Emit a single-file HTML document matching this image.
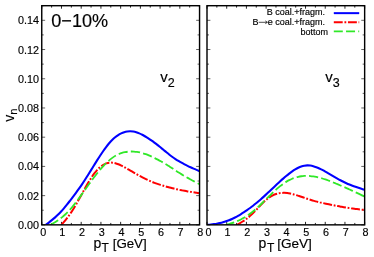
<!DOCTYPE html><html><head><meta charset="utf-8"><style>html,body{margin:0;padding:0;background:#fff}svg{display:block;will-change:transform;opacity:0.999}text{font-family:"Liberation Sans",sans-serif;fill:#000;stroke:#000;stroke-width:0.15px}</style></head><body>
<svg width="374" height="257" viewBox="0 0 374 257">
<rect width="374" height="257" fill="#fff"/>
<defs><clipPath id="c1"><rect x="41.75" y="5.70" width="157.80" height="219.15"/></clipPath><clipPath id="c2"><rect x="207.00" y="5.70" width="157.65" height="219.15"/></clipPath></defs>
<path d="M41.75,224.85v-3.00M41.75,5.70v3.00M51.61,224.85v-1.90M51.61,5.70v1.90M61.48,224.85v-3.00M61.48,5.70v3.00M71.34,224.85v-1.90M71.34,5.70v1.90M81.20,224.85v-3.00M81.20,5.70v3.00M91.06,224.85v-1.90M91.06,5.70v1.90M100.93,224.85v-3.00M100.93,5.70v3.00M110.79,224.85v-1.90M110.79,5.70v1.90M120.65,224.85v-3.00M120.65,5.70v3.00M130.51,224.85v-1.90M130.51,5.70v1.90M140.38,224.85v-3.00M140.38,5.70v3.00M150.24,224.85v-1.90M150.24,5.70v1.90M160.10,224.85v-3.00M160.10,5.70v3.00M169.96,224.85v-1.90M169.96,5.70v1.90M179.83,224.85v-3.00M179.83,5.70v3.00M189.69,224.85v-1.90M189.69,5.70v1.90M199.55,224.85v-3.00M199.55,5.70v3.00M207.00,224.85v-3.00M207.00,5.70v3.00M216.85,224.85v-1.90M216.85,5.70v1.90M226.71,224.85v-3.00M226.71,5.70v3.00M236.56,224.85v-1.90M236.56,5.70v1.90M246.41,224.85v-3.00M246.41,5.70v3.00M256.27,224.85v-1.90M256.27,5.70v1.90M266.12,224.85v-3.00M266.12,5.70v3.00M275.97,224.85v-1.90M275.97,5.70v1.90M285.82,224.85v-3.00M285.82,5.70v3.00M295.68,224.85v-1.90M295.68,5.70v1.90M305.53,224.85v-3.00M305.53,5.70v3.00M315.38,224.85v-1.90M315.38,5.70v1.90M325.24,224.85v-3.00M325.24,5.70v3.00M335.09,224.85v-1.90M335.09,5.70v1.90M344.94,224.85v-3.00M344.94,5.70v3.00M354.80,224.85v-1.90M354.80,5.70v1.90M364.65,224.85v-3.00M364.65,5.70v3.00" stroke="#000" stroke-width="0.85" fill="none"/>
<path d="M41.75,224.85h3.40M199.55,224.85h-3.40M41.75,210.24h2.00M199.55,210.24h-2.00M41.75,195.63h3.40M199.55,195.63h-3.40M41.75,181.02h2.00M199.55,181.02h-2.00M41.75,166.41h3.40M199.55,166.41h-3.40M41.75,151.80h2.00M199.55,151.80h-2.00M41.75,137.19h3.40M199.55,137.19h-3.40M41.75,122.58h2.00M199.55,122.58h-2.00M41.75,107.97h3.40M199.55,107.97h-3.40M41.75,93.36h2.00M199.55,93.36h-2.00M41.75,78.75h3.40M199.55,78.75h-3.40M41.75,64.14h2.00M199.55,64.14h-2.00M41.75,49.53h3.40M199.55,49.53h-3.40M41.75,34.92h2.00M199.55,34.92h-2.00M41.75,20.31h3.40M199.55,20.31h-3.40M41.75,5.70h2.00M199.55,5.70h-2.00M207.00,224.85h3.40M364.65,224.85h-3.40M207.00,210.24h2.00M364.65,210.24h-2.00M207.00,195.63h3.40M364.65,195.63h-3.40M207.00,181.02h2.00M364.65,181.02h-2.00M207.00,166.41h3.40M364.65,166.41h-3.40M207.00,151.80h2.00M364.65,151.80h-2.00M207.00,137.19h3.40M364.65,137.19h-3.40M207.00,122.58h2.00M364.65,122.58h-2.00M207.00,107.97h3.40M364.65,107.97h-3.40M207.00,93.36h2.00M364.65,93.36h-2.00M207.00,78.75h3.40M364.65,78.75h-3.40M207.00,64.14h2.00M364.65,64.14h-2.00M207.00,49.53h3.40M364.65,49.53h-3.40M207.00,34.92h2.00M364.65,34.92h-2.00M207.00,20.31h3.40M364.65,20.31h-3.40M207.00,5.70h2.00M364.65,5.70h-2.00" stroke="#000" stroke-width="0.62" fill="none"/>
<g clip-path="url(#c1)" fill="none" stroke-width="1.80">
<path d="M45.80,224.90 C46.30,224.52 47.81,223.37 48.82,222.58 C49.82,221.80 50.83,221.01 51.83,220.18 C52.84,219.36 53.84,218.51 54.85,217.62 C55.85,216.72 56.86,215.80 57.86,214.81 C58.87,213.83 59.87,212.79 60.88,211.71 C61.88,210.63 62.89,209.49 63.89,208.31 C64.90,207.14 65.90,205.91 66.91,204.66 C67.92,203.42 68.92,202.13 69.93,200.83 C70.93,199.54 71.94,198.22 72.94,196.89 C73.95,195.57 74.95,194.24 75.96,192.87 C76.96,191.51 77.97,190.13 78.97,188.70 C79.98,187.28 80.98,185.82 81.99,184.32 C82.99,182.82 84.00,181.28 85.00,179.72 C86.01,178.16 87.01,176.56 88.02,174.96 C89.02,173.36 90.03,171.74 91.04,170.12 C92.04,168.50 93.05,166.87 94.05,165.25 C95.06,163.64 96.06,162.02 97.07,160.43 C98.07,158.84 99.08,157.25 100.08,155.72 C101.09,154.19 102.09,152.67 103.10,151.23 C104.10,149.78 105.11,148.38 106.11,147.06 C107.12,145.74 108.12,144.48 109.13,143.31 C110.13,142.15 111.14,141.05 112.15,140.05 C113.15,139.05 114.16,138.13 115.16,137.30 C116.17,136.47 117.17,135.73 118.18,135.08 C119.18,134.42 120.19,133.86 121.19,133.37 C122.20,132.89 123.20,132.49 124.21,132.18 C125.21,131.86 126.22,131.63 127.22,131.48 C128.23,131.33 129.23,131.27 130.24,131.28 C131.24,131.29 132.25,131.39 133.25,131.55 C134.26,131.72 135.27,131.97 136.27,132.27 C137.28,132.58 138.28,132.96 139.29,133.38 C140.29,133.80 141.30,134.29 142.30,134.80 C143.31,135.31 144.31,135.88 145.32,136.47 C146.32,137.05 147.33,137.68 148.33,138.33 C149.34,138.98 150.34,139.66 151.35,140.36 C152.35,141.06 153.36,141.79 154.36,142.54 C155.37,143.29 156.38,144.07 157.38,144.86 C158.39,145.66 159.39,146.48 160.40,147.30 C161.40,148.12 162.41,148.96 163.41,149.80 C164.42,150.63 165.42,151.48 166.43,152.30 C167.43,153.12 168.44,153.94 169.44,154.72 C170.45,155.50 171.45,156.26 172.46,156.99 C173.46,157.71 174.47,158.40 175.47,159.06 C176.48,159.73 177.48,160.35 178.49,160.96 C179.50,161.57 180.50,162.15 181.51,162.70 C182.51,163.26 183.52,163.80 184.52,164.32 C185.53,164.83 186.53,165.33 187.54,165.82 C188.54,166.31 189.55,166.78 190.55,167.24 C191.56,167.70 192.56,168.15 193.57,168.59 C194.57,169.04 195.58,169.48 196.58,169.91 C197.59,170.35 199.10,170.99 199.60,171.21" stroke="#0000ff" stroke-width="2.1"/>
<path d="M61.20,225.09 C61.70,224.50 63.21,222.80 64.21,221.60 C65.21,220.40 66.21,219.19 67.22,217.89 C68.22,216.58 69.22,215.22 70.23,213.77 C71.23,212.31 72.23,210.77 73.23,209.17 C74.24,207.56 75.24,205.86 76.24,204.13 C77.25,202.40 78.25,200.59 79.25,198.78 C80.26,196.97 81.26,195.10 82.26,193.28 C83.26,191.45 84.27,189.60 85.27,187.82 C86.27,186.04 87.28,184.27 88.28,182.60 C89.28,180.92 90.28,179.29 91.29,177.77 C92.29,176.25 93.29,174.80 94.30,173.48 C95.30,172.16 96.30,170.93 97.30,169.84 C98.31,168.75 99.31,167.78 100.31,166.94 C101.32,166.10 102.32,165.38 103.32,164.79 C104.32,164.20 105.33,163.74 106.33,163.39 C107.33,163.05 108.34,162.82 109.34,162.70 C110.34,162.58 111.34,162.59 112.35,162.67 C113.35,162.76 114.35,162.96 115.36,163.22 C116.36,163.47 117.36,163.83 118.37,164.22 C119.37,164.60 120.37,165.07 121.37,165.55 C122.38,166.04 123.38,166.57 124.38,167.12 C125.39,167.66 126.39,168.23 127.39,168.81 C128.39,169.38 129.40,169.98 130.40,170.56 C131.40,171.15 132.41,171.74 133.41,172.33 C134.41,172.91 135.41,173.49 136.42,174.06 C137.42,174.63 138.42,175.19 139.43,175.74 C140.43,176.29 141.43,176.83 142.43,177.35 C143.44,177.88 144.44,178.39 145.44,178.88 C146.45,179.37 147.45,179.85 148.45,180.31 C149.46,180.76 150.46,181.20 151.46,181.62 C152.46,182.04 153.47,182.44 154.47,182.82 C155.47,183.20 156.48,183.56 157.48,183.90 C158.48,184.25 159.48,184.58 160.49,184.90 C161.49,185.22 162.49,185.52 163.50,185.82 C164.50,186.12 165.50,186.40 166.50,186.68 C167.51,186.96 168.51,187.22 169.51,187.48 C170.52,187.75 171.52,188.00 172.52,188.25 C173.52,188.49 174.53,188.73 175.53,188.96 C176.53,189.20 177.54,189.42 178.54,189.64 C179.54,189.86 180.54,190.07 181.55,190.27 C182.55,190.47 183.55,190.66 184.56,190.85 C185.56,191.04 186.56,191.22 187.57,191.39 C188.57,191.56 189.57,191.72 190.57,191.88 C191.58,192.04 192.58,192.20 193.58,192.35 C194.59,192.50 195.59,192.64 196.59,192.79 C197.59,192.93 199.10,193.14 199.60,193.21" stroke="#ff0000" stroke-width="2" stroke-dasharray="8.9,1.75,1.8,1.7" stroke-dashoffset="-0.80"/>
<path d="M50.30,224.96 C50.80,224.68 52.29,223.83 53.29,223.23 C54.28,222.64 55.28,222.04 56.27,221.39 C57.27,220.75 58.26,220.09 59.26,219.37 C60.25,218.65 61.25,217.90 62.24,217.09 C63.24,216.27 64.23,215.41 65.23,214.48 C66.23,213.55 67.22,212.57 68.22,211.53 C69.21,210.49 70.21,209.39 71.20,208.25 C72.20,207.10 73.19,205.89 74.19,204.64 C75.18,203.39 76.18,202.08 77.17,200.75 C78.17,199.41 79.16,198.03 80.16,196.65 C81.16,195.27 82.15,193.86 83.15,192.47 C84.14,191.07 85.14,189.66 86.13,188.26 C87.13,186.86 88.12,185.46 89.12,184.09 C90.11,182.71 91.11,181.34 92.10,179.99 C93.10,178.65 94.09,177.31 95.09,176.02 C96.09,174.72 97.08,173.44 98.08,172.21 C99.07,170.98 100.07,169.78 101.06,168.63 C102.06,167.48 103.05,166.38 104.05,165.33 C105.04,164.28 106.04,163.27 107.03,162.33 C108.03,161.39 109.02,160.50 110.02,159.67 C111.02,158.85 112.01,158.08 113.01,157.38 C114.00,156.68 115.00,156.05 115.99,155.49 C116.99,154.93 117.98,154.44 118.98,154.01 C119.97,153.58 120.97,153.22 121.96,152.91 C122.96,152.60 123.95,152.36 124.95,152.16 C125.95,151.95 126.94,151.81 127.94,151.70 C128.93,151.60 129.93,151.54 130.92,151.52 C131.92,151.50 132.91,151.53 133.91,151.59 C134.90,151.66 135.90,151.76 136.89,151.90 C137.89,152.05 138.88,152.23 139.88,152.45 C140.88,152.67 141.87,152.93 142.87,153.22 C143.86,153.51 144.86,153.85 145.85,154.21 C146.85,154.57 147.84,154.97 148.84,155.39 C149.83,155.80 150.83,156.25 151.82,156.71 C152.82,157.17 153.81,157.65 154.81,158.14 C155.81,158.63 156.80,159.14 157.80,159.66 C158.79,160.18 159.79,160.71 160.78,161.26 C161.78,161.81 162.77,162.37 163.77,162.95 C164.76,163.53 165.76,164.13 166.75,164.75 C167.75,165.36 168.74,166.00 169.74,166.64 C170.74,167.29 171.73,167.95 172.73,168.61 C173.72,169.26 174.72,169.93 175.71,170.58 C176.71,171.23 177.70,171.88 178.70,172.51 C179.69,173.14 180.69,173.76 181.68,174.37 C182.68,174.98 183.67,175.58 184.67,176.17 C185.67,176.75 186.66,177.32 187.66,177.88 C188.65,178.44 189.65,178.98 190.64,179.52 C191.64,180.06 192.63,180.58 193.63,181.11 C194.62,181.63 195.62,182.15 196.61,182.67 C197.61,183.18 199.10,183.96 199.60,184.21" stroke="#30e828" stroke-width="1.8" stroke-dasharray="9.25,3.2" stroke-dashoffset="0.00"/>
</g>
<g clip-path="url(#c2)" fill="none" stroke-width="1.80">
<path d="M207.90,224.86 C208.40,224.81 209.91,224.65 210.91,224.53 C211.92,224.41 212.92,224.28 213.92,224.14 C214.93,223.99 215.93,223.84 216.93,223.66 C217.94,223.48 218.94,223.28 219.95,223.05 C220.95,222.82 221.95,222.57 222.96,222.28 C223.96,222.00 224.97,221.69 225.97,221.34 C226.97,221.00 227.98,220.63 228.98,220.23 C229.98,219.82 230.99,219.39 231.99,218.93 C233.00,218.46 234.00,217.97 235.00,217.45 C236.01,216.94 237.01,216.39 238.02,215.82 C239.02,215.25 240.02,214.66 241.03,214.04 C242.03,213.43 243.03,212.79 244.04,212.14 C245.04,211.49 246.05,210.81 247.05,210.12 C248.05,209.43 249.06,208.71 250.06,207.98 C251.07,207.24 252.07,206.49 253.07,205.71 C254.08,204.93 255.08,204.12 256.08,203.30 C257.09,202.48 258.09,201.63 259.10,200.77 C260.10,199.91 261.10,199.02 262.11,198.13 C263.11,197.23 264.12,196.31 265.12,195.39 C266.12,194.47 267.13,193.53 268.13,192.59 C269.13,191.65 270.14,190.70 271.14,189.76 C272.15,188.81 273.15,187.85 274.15,186.91 C275.16,185.96 276.16,185.02 277.17,184.08 C278.17,183.15 279.17,182.22 280.18,181.31 C281.18,180.40 282.18,179.49 283.19,178.62 C284.19,177.74 285.20,176.88 286.20,176.05 C287.20,175.22 288.21,174.41 289.21,173.64 C290.22,172.87 291.22,172.12 292.22,171.42 C293.23,170.73 294.23,170.06 295.23,169.45 C296.24,168.85 297.24,168.29 298.25,167.80 C299.25,167.32 300.25,166.88 301.26,166.54 C302.26,166.19 303.27,165.91 304.27,165.72 C305.27,165.53 306.28,165.43 307.28,165.40 C308.28,165.38 309.29,165.44 310.29,165.57 C311.30,165.70 312.30,165.91 313.30,166.18 C314.31,166.44 315.31,166.78 316.32,167.15 C317.32,167.52 318.32,167.96 319.33,168.42 C320.33,168.88 321.33,169.39 322.34,169.91 C323.34,170.44 324.35,171.00 325.35,171.57 C326.35,172.14 327.36,172.73 328.36,173.32 C329.37,173.92 330.37,174.52 331.37,175.12 C332.38,175.72 333.38,176.32 334.38,176.91 C335.39,177.50 336.39,178.08 337.40,178.64 C338.40,179.20 339.40,179.75 340.41,180.28 C341.41,180.81 342.42,181.32 343.42,181.81 C344.42,182.30 345.43,182.77 346.43,183.22 C347.43,183.67 348.44,184.10 349.44,184.51 C350.45,184.92 351.45,185.31 352.45,185.70 C353.46,186.08 354.46,186.44 355.47,186.80 C356.47,187.15 357.47,187.50 358.48,187.84 C359.48,188.18 360.48,188.51 361.49,188.84 C362.49,189.17 364.00,189.66 364.50,189.82" stroke="#0000ff" stroke-width="2.1"/>
<path d="M236.70,224.95 C237.20,224.68 238.68,223.87 239.67,223.30 C240.66,222.73 241.65,222.16 242.64,221.53 C243.63,220.90 244.63,220.25 245.62,219.53 C246.61,218.81 247.60,218.05 248.59,217.22 C249.58,216.40 250.57,215.52 251.56,214.59 C252.55,213.66 253.54,212.66 254.53,211.65 C255.52,210.64 256.51,209.57 257.50,208.52 C258.50,207.47 259.49,206.39 260.48,205.36 C261.47,204.33 262.46,203.30 263.45,202.35 C264.44,201.40 265.43,200.49 266.42,199.66 C267.41,198.83 268.40,198.05 269.39,197.37 C270.38,196.69 271.37,196.09 272.37,195.57 C273.36,195.05 274.35,194.61 275.34,194.25 C276.33,193.88 277.32,193.60 278.31,193.39 C279.30,193.17 280.29,193.03 281.28,192.94 C282.27,192.86 283.26,192.84 284.25,192.87 C285.24,192.90 286.23,192.99 287.23,193.11 C288.22,193.23 289.21,193.41 290.20,193.60 C291.19,193.80 292.18,194.03 293.17,194.29 C294.16,194.54 295.15,194.82 296.14,195.12 C297.13,195.41 298.12,195.74 299.11,196.06 C300.10,196.38 301.10,196.72 302.09,197.06 C303.08,197.39 304.07,197.73 305.06,198.06 C306.05,198.39 307.04,198.72 308.03,199.04 C309.02,199.36 310.01,199.67 311.00,199.97 C311.99,200.27 312.98,200.56 313.97,200.84 C314.97,201.12 315.96,201.39 316.95,201.64 C317.94,201.90 318.93,202.14 319.92,202.38 C320.91,202.61 321.90,202.83 322.89,203.05 C323.88,203.27 324.87,203.48 325.86,203.69 C326.85,203.90 327.84,204.10 328.83,204.31 C329.83,204.51 330.82,204.71 331.81,204.91 C332.80,205.12 333.79,205.32 334.78,205.52 C335.77,205.71 336.76,205.91 337.75,206.10 C338.74,206.30 339.73,206.49 340.72,206.67 C341.71,206.85 342.70,207.04 343.70,207.21 C344.69,207.38 345.68,207.55 346.67,207.71 C347.66,207.87 348.65,208.02 349.64,208.17 C350.63,208.31 351.62,208.45 352.61,208.58 C353.60,208.71 354.59,208.84 355.58,208.95 C356.57,209.07 357.57,209.18 358.56,209.29 C359.55,209.40 360.54,209.51 361.53,209.61 C362.52,209.71 364.00,209.86 364.50,209.91" stroke="#ff0000" stroke-width="2" stroke-dasharray="8.9,1.75,1.8,1.7" stroke-dashoffset="-0.20"/>
<path d="M225.80,224.89 C226.30,224.75 227.81,224.34 228.82,224.05 C229.82,223.76 230.83,223.47 231.83,223.14 C232.84,222.81 233.85,222.47 234.85,222.09 C235.86,221.71 236.86,221.31 237.87,220.87 C238.88,220.43 239.88,219.95 240.89,219.44 C241.89,218.93 242.90,218.38 243.90,217.79 C244.91,217.20 245.92,216.57 246.92,215.91 C247.93,215.24 248.93,214.53 249.94,213.78 C250.94,213.04 251.95,212.25 252.96,211.43 C253.96,210.61 254.97,209.76 255.97,208.87 C256.98,207.99 257.99,207.07 258.99,206.14 C260.00,205.21 261.00,204.24 262.01,203.27 C263.01,202.29 264.02,201.29 265.03,200.29 C266.03,199.29 267.04,198.26 268.04,197.26 C269.05,196.26 270.06,195.25 271.06,194.28 C272.07,193.30 273.07,192.34 274.08,191.40 C275.08,190.47 276.09,189.56 277.10,188.69 C278.10,187.82 279.11,186.97 280.11,186.17 C281.12,185.37 282.12,184.61 283.13,183.90 C284.14,183.18 285.14,182.51 286.15,181.89 C287.15,181.27 288.16,180.70 289.17,180.17 C290.17,179.65 291.18,179.18 292.18,178.76 C293.19,178.34 294.19,177.97 295.20,177.64 C296.21,177.32 297.21,177.04 298.22,176.81 C299.22,176.57 300.23,176.38 301.23,176.24 C302.24,176.09 303.25,175.99 304.25,175.93 C305.26,175.87 306.26,175.85 307.27,175.87 C308.28,175.89 309.28,175.95 310.29,176.04 C311.29,176.13 312.30,176.25 313.30,176.40 C314.31,176.55 315.32,176.74 316.32,176.95 C317.33,177.15 318.33,177.39 319.34,177.65 C320.34,177.90 321.35,178.19 322.36,178.49 C323.36,178.79 324.37,179.11 325.37,179.45 C326.38,179.79 327.39,180.15 328.39,180.52 C329.40,180.90 330.40,181.29 331.41,181.69 C332.41,182.08 333.42,182.50 334.43,182.91 C335.43,183.33 336.44,183.75 337.44,184.18 C338.45,184.61 339.46,185.04 340.46,185.47 C341.47,185.91 342.47,186.34 343.48,186.78 C344.48,187.22 345.49,187.66 346.50,188.11 C347.50,188.56 348.51,189.02 349.51,189.48 C350.52,189.93 351.52,190.40 352.53,190.86 C353.54,191.33 354.54,191.80 355.55,192.27 C356.55,192.74 357.56,193.21 358.57,193.68 C359.57,194.15 360.58,194.62 361.58,195.09 C362.59,195.56 364.10,196.27 364.60,196.50" stroke="#30e828" stroke-width="1.8" stroke-dasharray="9.25,3.2" stroke-dashoffset="0.50"/>
</g>
<rect x="41.75" y="5.70" width="157.80" height="219.15" fill="none" stroke="#000" stroke-width="1.42"/>
<rect x="207.00" y="5.70" width="157.65" height="219.15" fill="none" stroke="#000" stroke-width="1.42"/>
<text x="38.9" y="228.85" font-size="10.8" text-anchor="end">0.00</text>
<text x="38.9" y="199.63" font-size="10.8" text-anchor="end">0.02</text>
<text x="38.9" y="170.41" font-size="10.8" text-anchor="end">0.04</text>
<text x="38.9" y="141.19" font-size="10.8" text-anchor="end">0.06</text>
<text x="38.9" y="111.97" font-size="10.8" text-anchor="end">0.08</text>
<text x="38.9" y="82.75" font-size="10.8" text-anchor="end">0.10</text>
<text x="38.9" y="53.53" font-size="10.8" text-anchor="end">0.12</text>
<text x="38.9" y="24.31" font-size="10.8" text-anchor="end">0.14</text>
<text x="43.15" y="236.2" font-size="10.8" text-anchor="middle">0</text>
<text x="62.27" y="236.2" font-size="10.8" text-anchor="middle">1</text>
<text x="82.00" y="236.2" font-size="10.8" text-anchor="middle">2</text>
<text x="101.73" y="236.2" font-size="10.8" text-anchor="middle">3</text>
<text x="121.45" y="236.2" font-size="10.8" text-anchor="middle">4</text>
<text x="141.18" y="236.2" font-size="10.8" text-anchor="middle">5</text>
<text x="160.90" y="236.2" font-size="10.8" text-anchor="middle">6</text>
<text x="180.63" y="236.2" font-size="10.8" text-anchor="middle">7</text>
<text x="200.35" y="236.2" font-size="10.8" text-anchor="middle">8</text>
<text x="208.40" y="236.2" font-size="10.8" text-anchor="middle">0</text>
<text x="227.51" y="236.2" font-size="10.8" text-anchor="middle">1</text>
<text x="247.21" y="236.2" font-size="10.8" text-anchor="middle">2</text>
<text x="266.92" y="236.2" font-size="10.8" text-anchor="middle">3</text>
<text x="286.62" y="236.2" font-size="10.8" text-anchor="middle">4</text>
<text x="306.33" y="236.2" font-size="10.8" text-anchor="middle">5</text>
<text x="326.04" y="236.2" font-size="10.8" text-anchor="middle">6</text>
<text x="345.74" y="236.2" font-size="10.8" text-anchor="middle">7</text>
<text x="365.45" y="236.2" font-size="10.8" text-anchor="middle">8</text>
<text y="247.5" font-size="14"><tspan x="93.50">p</tspan><tspan x="101.60" y="251.6" font-size="12">T</tspan><tspan x="112.70" y="247.5" font-size="13.3">[GeV]</tspan></text>
<text y="247.5" font-size="14"><tspan x="258.40">p</tspan><tspan x="266.90" y="251.6" font-size="12">T</tspan><tspan x="277.15" y="247.5" font-size="13.6">[GeV]</tspan></text>
<text transform="translate(13.6,121.8) rotate(-90)" font-size="14"><tspan>v</tspan><tspan font-size="11.2" dy="3.1">n</tspan></text>
<text x="51.3" y="26.5" font-size="18.1">0−10%</text>
<text x="160.2" y="82.0" font-size="15"><tspan>v</tspan><tspan font-size="12.5" dy="4.7">2</tspan></text>
<text x="325.2" y="82.0" font-size="15"><tspan>v</tspan><tspan font-size="12.5" dy="5.1">3</tspan></text>
<g font-size="9.0" style="stroke-width:0.12px">
<text x="325.0" y="15.25" text-anchor="end">B coal.+fragm.</text>
<text x="325.0" y="25.25" text-anchor="end">e coal.+fragm.</text>
<text x="252.6" y="25.25">B</text>
<text x="328.1" y="34.55" text-anchor="end">bottom</text>
</g>
<path d="M258.7,22.3h8.6M265.3,20.9l2.1,1.4l-2.1,1.4" stroke="#000" stroke-width="0.7" fill="none"/>
<g fill="none" stroke-width="1.80">
<path d="M333.8,13.15H359.2" stroke="#0000ff" stroke-width="2"/>
<path d="M333.8,22.25H359.2" stroke="#ff0000" stroke-width="1.9" stroke-dasharray="8.9,1.75,1.8,1.7"/>
<path d="M333.8,31.45H359.2" stroke="#30e828" stroke-width="1.7" stroke-dasharray="9,3.24"/>
</g>
</svg></body></html>
